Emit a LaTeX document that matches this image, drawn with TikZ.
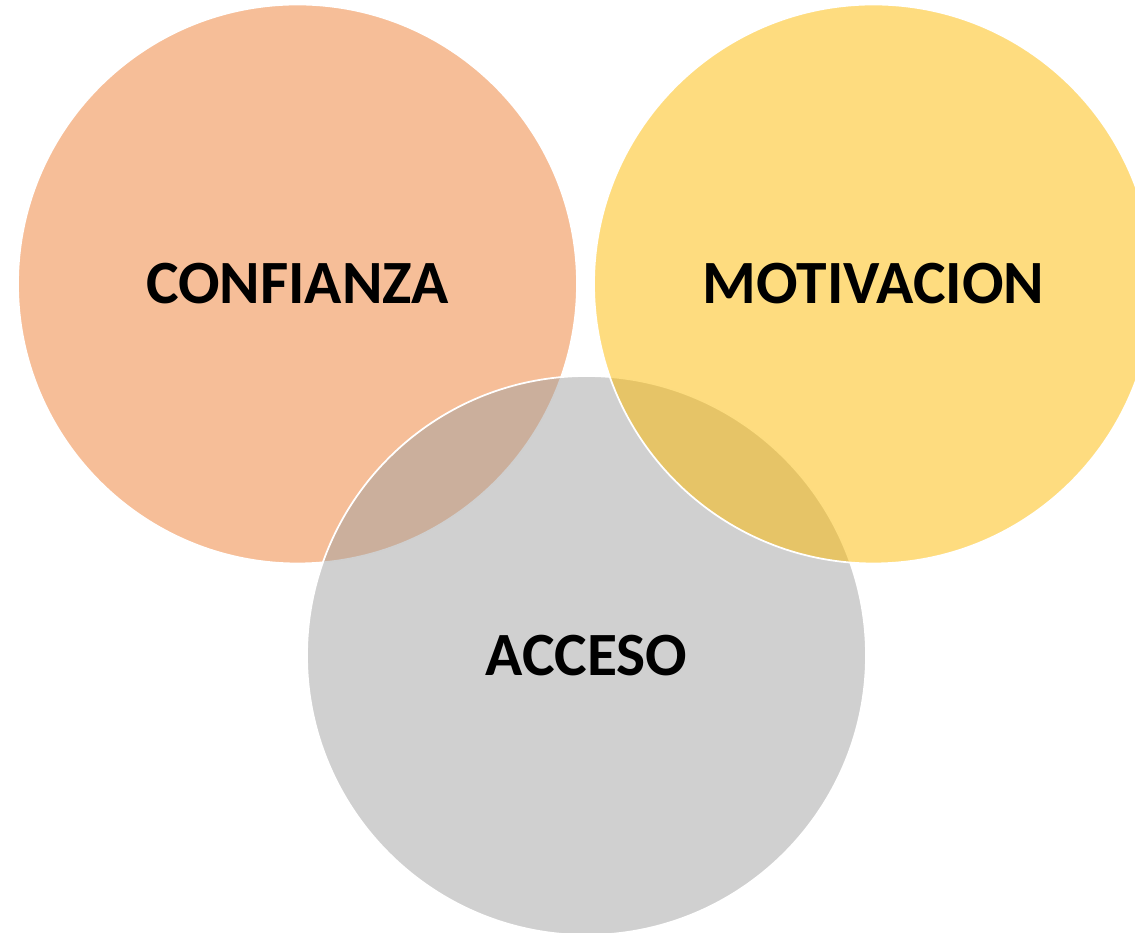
\documentclass[tikz,border=0pt]{standalone}
\usepackage{fontspec}
\setmainfont{Carlito}
\usepackage{tikz}

\definecolor{confcol}{RGB}{237,125,49}
\definecolor{accgrey}{RGB}{161,161,161}
\definecolor{motcol}{RGB}{253,186,0}

\tikzset{ring/.style={circle, minimum size=11.18cm, inner sep=0pt, fill opacity=.5, text opacity=1, draw=white, draw opacity=1, line width=1pt, font=\fontsize{35}{40}\selectfont\bfseries}}

\begin{document}
\begin{tikzpicture}
\useasboundingbox (0,0) rectangle (22.7,18.66);
\node[ring, fill=confcol] (confianza) at (5.95,12.98) {CONFIANZA};
\node[ring, fill=accgrey] (acceso) at (11.73,5.55) {ACCESO};
\node[ring, fill=motcol] (motivacion) at (17.47,12.98) {MOTIVACION};
\end{tikzpicture}
\end{document}
